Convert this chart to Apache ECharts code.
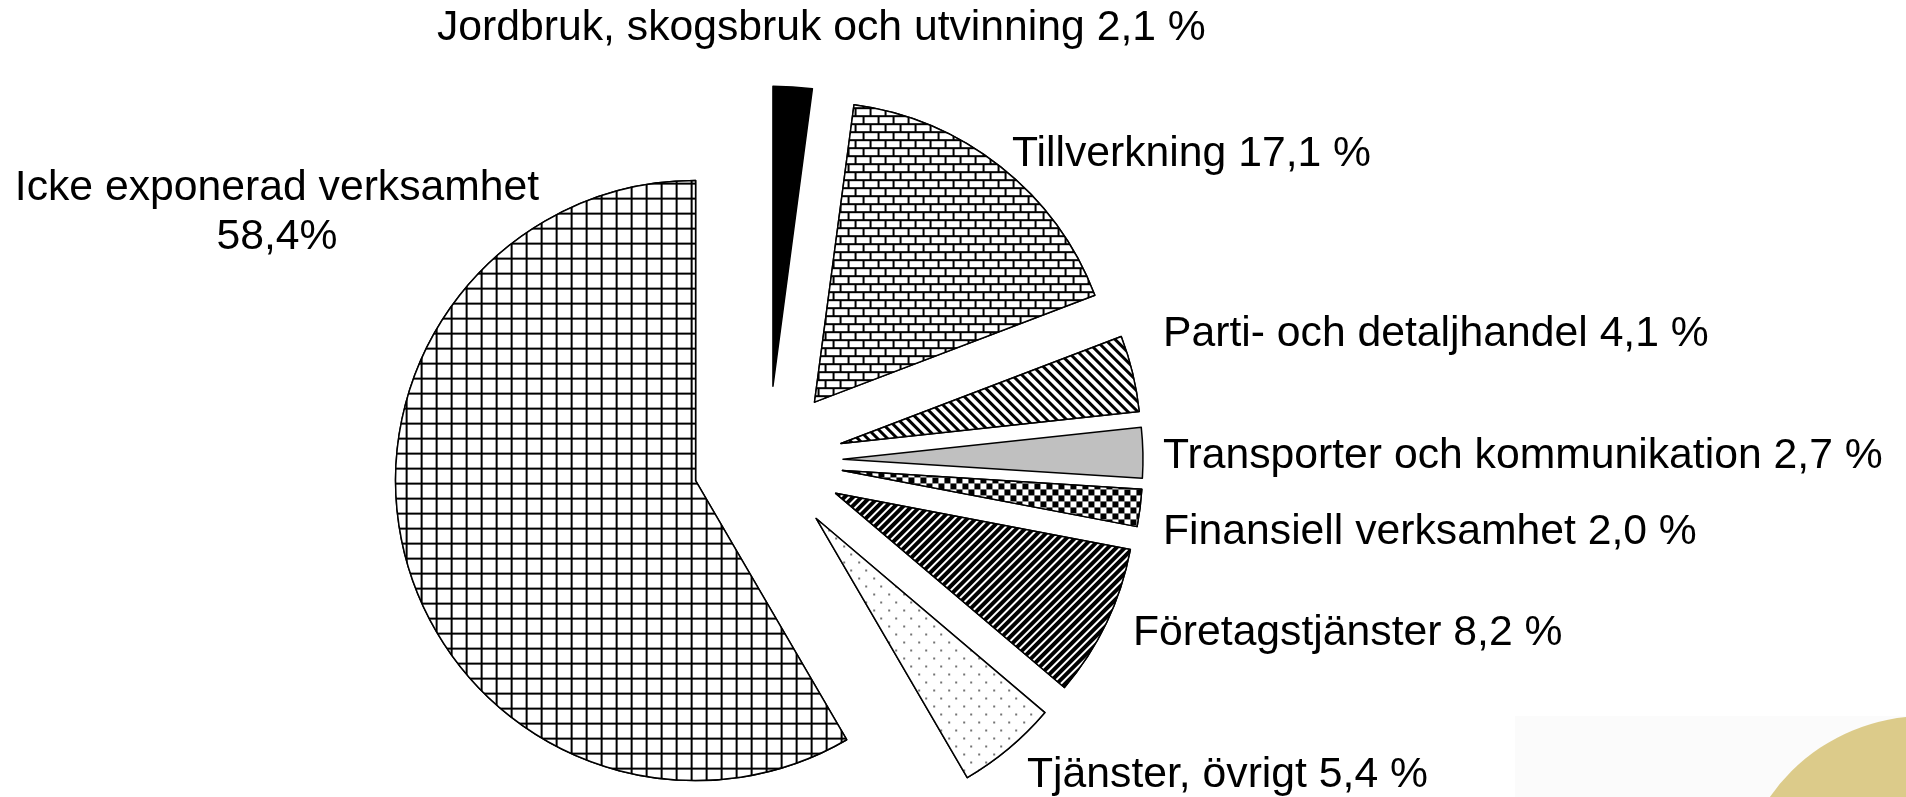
<!DOCTYPE html>
<html>
<head>
<meta charset="utf-8">
<script src="https://cdn.jsdelivr.net/npm/echarts@6/dist/echarts.min.js"></script>
<style>
html,body{margin:0;padding:0;background:#ffffff;}
#chart{width:1906px;height:797px;}
</style>
</head>
<body>
<div id="chart"></div>
<script>
// ---- data ----
const categories = [
  'Jordbruk, skogsbruk och utvinning',
  'Tillverkning',
  'Parti- och detaljhandel',
  'Transporter och kommunikation',
  'Finansiell verksamhet',
  'Företagstjänster',
  'Tjänster, övrigt',
  'Icke exponerad verksamhet'
];
const shares = [2.1, 17.1, 4.1, 2.7, 2.0, 8.2, 5.4, 58.4];
const labelTexts = [
  'Jordbruk, skogsbruk och utvinning 2,1 %',
  'Tillverkning 17,1 %',
  'Parti- och detaljhandel 4,1 %',
  'Transporter och kommunikation 2,7 %',
  'Finansiell verksamhet 2,0 %',
  'Företagstjänster 8,2 %',
  'Tjänster, övrigt 5,4 %',
  'Icke exponerad verksamhet\n58,4%'
];

// ---- layout / style ----
const labelPos = [
  {x: 437,  y: 28,  align: 'left'},
  {x: 1012, y: 154, align: 'left'},
  {x: 1163, y: 334, align: 'left'},
  {x: 1163, y: 456, align: 'left'},
  {x: 1163, y: 532, align: 'left'},
  {x: 1133, y: 633, align: 'left'},
  {x: 1027, y: 775, align: 'left'},
  {x: 277,  y: 213, align: 'center'}
];

const sliceStyles = [
  {color: '#000000'},
  {color: '#ffffff', decal: {symbol: 'rect', color: '#ffffff', backgroundColor: '#000000',
     dashArrayX: [[13, 2], [6, 2, 7, 0]], dashArrayY: [6, 2], symbolSize: 1}},
  {color: '#ffffff', decal: {symbol: 'rect', color: '#000000', backgroundColor: '#ffffff',
     dashArrayX: [3, 4], dashArrayY: [10, 0], rotation: -Math.PI / 4, symbolSize: 1}},
  {color: '#c0c0c0'},
  {color: '#ffffff', decal: {symbol: 'rect', color: '#000000', backgroundColor: '#ffffff',
     dashArrayX: [[6, 6], [0, 6, 6, 0]], dashArrayY: [6, 0], symbolSize: 1}},
  {color: '#ffffff', decal: {symbol: 'rect', color: '#000000', backgroundColor: '#ffffff',
     dashArrayX: [4, 2], dashArrayY: [10, 0], rotation: Math.PI / 4, symbolSize: 1}},
  {color: '#ffffff', decal: {symbol: 'circle', color: '#444444', backgroundColor: '#ffffff',
     dashArrayX: [[2, 13], [0, 7, 2, 6]], dashArrayY: [2, 6], symbolSize: 1}},
  {color: '#ffffff', decal: {symbol: 'rect', color: '#ffffff', backgroundColor: '#000000',
     dashArrayX: [13, 2], dashArrayY: [13, 2], symbolSize: 1}}
];

const pieData = categories.map((name, i) => ({
  name: name,
  value: shares[i],
  selected: true,
  itemStyle: Object.assign({borderColor: '#000000', borderWidth: 1.5}, sliceStyles[i])
}));
const labelData = categories.map((name, i) => ({name: name, value: shares[i]}));

const pieGeom = {
  center: [768, 461],
  radius: [0, 300],
  startAngle: 90,
  clockwise: true
};

const chart = echarts.init(document.getElementById('chart'), null, {renderer: 'canvas'});
chart.setOption({
  animation: false,
  backgroundColor: '#ffffff',
  graphic: [
    {type: 'rect', z: 0, silent: true, shape: {x: 1515, y: 716, width: 391, height: 81}, style: {fill: '#fbfbfb'}},
    {type: 'circle', z: 1, silent: true, shape: {cx: 1925, cy: 905, r: 189}, style: {fill: '#dccb8a'}}
  ],
  series: [
    Object.assign({
      type: 'pie',
      selectedMode: 'multiple',
      selectedOffset: 75,
      avoidLabelOverlap: false,
      minAngle: 0,
      emphasis: {disabled: true},
      select: {itemStyle: {borderColor: '#000000', borderWidth: 1.5}},
      label: {show: false},
      labelLine: {show: false},
      data: pieData
    }, pieGeom),
    Object.assign({
      type: 'pie',
      silent: true,
      z: 5,
      selectedMode: false,
      avoidLabelOverlap: false,
      minAngle: 0,
      emphasis: {disabled: true},
      itemStyle: {color: 'rgba(0,0,0,0)', borderWidth: 0},
      label: {
        show: true,
        position: 'outside',
        formatter: (p) => labelTexts[p.dataIndex],
        fontFamily: '"Liberation Sans", Arial, sans-serif',
        fontSize: 42.7,
        lineHeight: 49,
        color: '#000000',
        overflow: 'none'
      },
      labelLine: {show: false},
      labelLayout: function (params) {
        const p = labelPos[params.dataIndex];
        return {x: p.x, y: p.y, align: p.align, verticalAlign: 'middle'};
      },
      data: labelData
    }, pieGeom)
  ]
});
</script>
</body>
</html>
